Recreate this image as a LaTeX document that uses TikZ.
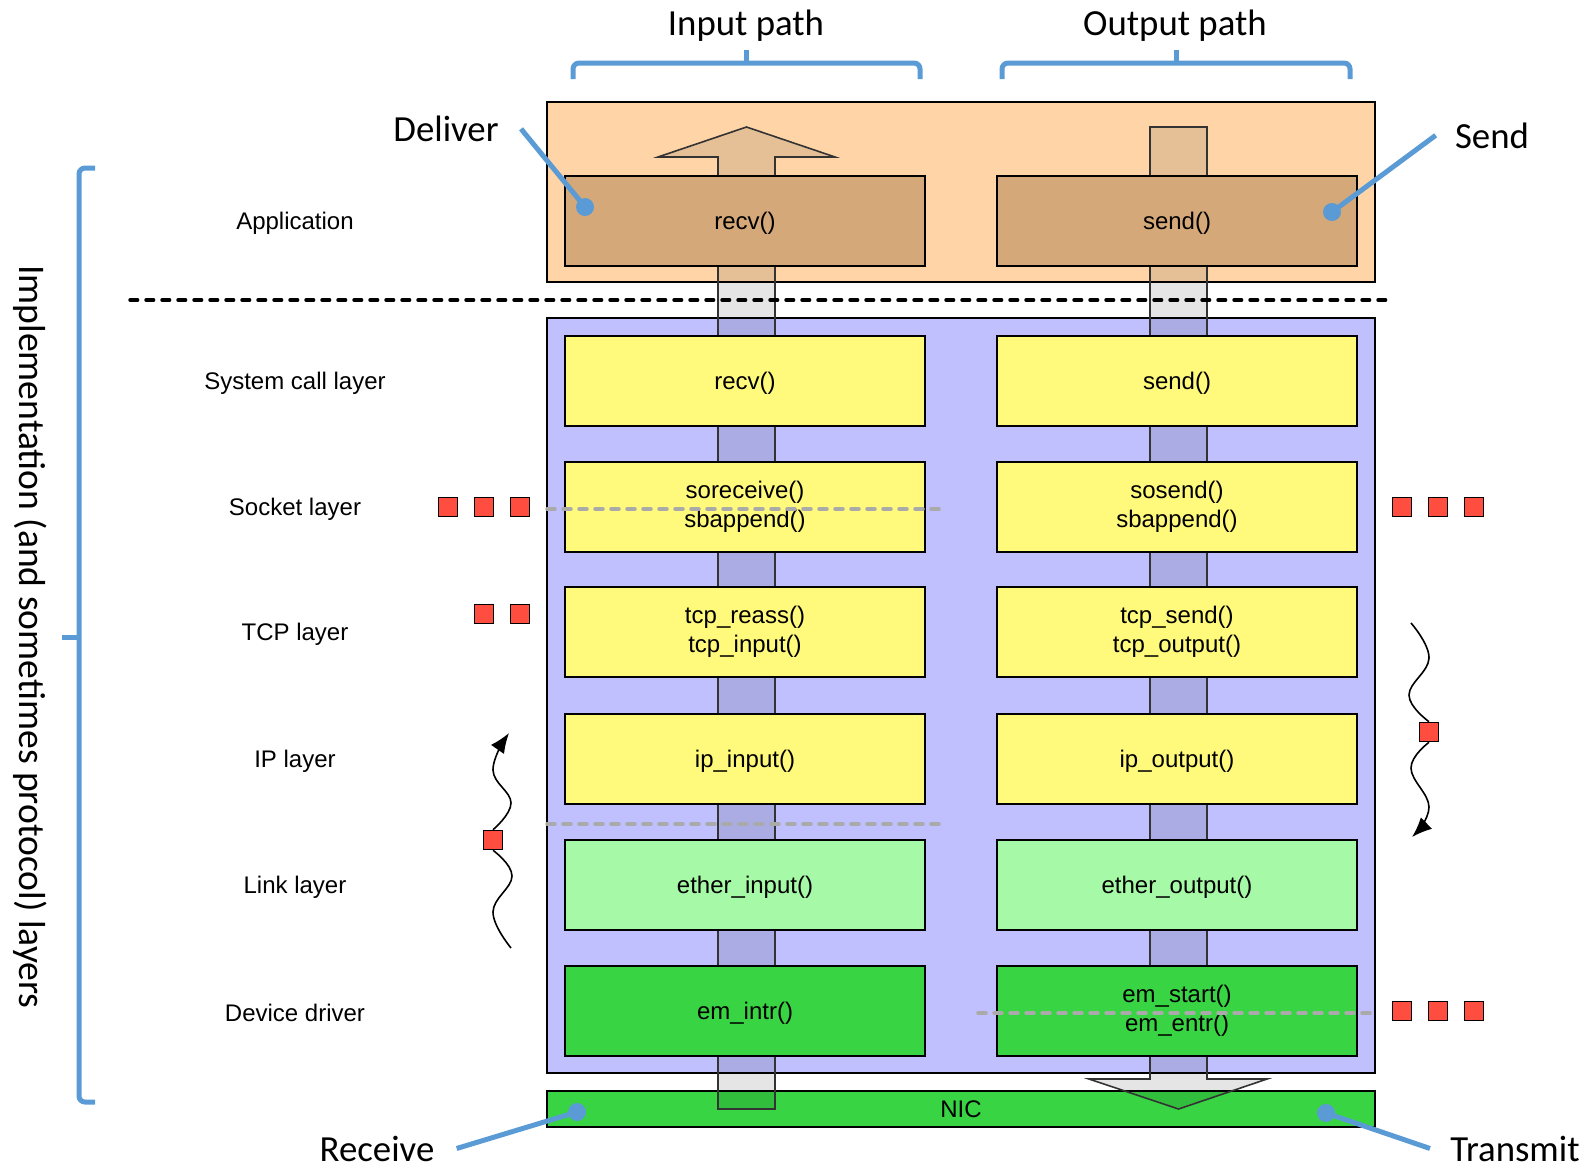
\documentclass[tikz,border=0pt]{standalone}
\usepackage{fontspec}
\setmainfont{Liberation Sans}
\newfontfamily\callfont{Carlito}
\usetikzlibrary{arrows.meta}

\definecolor{appbg}{HTML}{FFD5A8}
\definecolor{appfn}{HTML}{D4A878}
\definecolor{kernbg}{HTML}{C0C0FF}
\definecolor{protofn}{HTML}{FFFA7B}
\definecolor{linkfn}{HTML}{A6F9A6}
\definecolor{devfn}{HTML}{38D444}
\definecolor{pkt}{HTML}{FF4D40}
\definecolor{callblue}{HTML}{5B9BD5}
\definecolor{cutgrey}{HTML}{AAAAAA}

\newcommand{\fnpair}[2]{\begin{tabular}{@{}c@{}}#1\\#2\end{tabular}}

\tikzset{
  fnbox/.style={draw, line width=1pt, minimum width=180pt, minimum height=45pt,
    inner sep=0pt, font=\fontsize{12}{14.3}\selectfont},
  onefn/.style={fnbox, execute at begin node=\rule{0pt}{10.8pt}},
  layerlbl/.style={font=\fontsize{12}{14.3}\selectfont, execute at begin node=\rule{0pt}{10.8pt}},
  region/.style={draw, line width=1pt, minimum width=414pt, inner sep=0pt,
    font=\fontsize{12}{14.3}\selectfont},
  bigtxt/.style={font=\callfont\fontsize{18.4}{22}\selectfont, inner sep=0pt},
  pktbox/.style={draw, line width=0.8pt, fill=pkt, minimum size=9.5pt, inner sep=0pt},
  blockarrow/.style={draw=black!80, line width=0.8pt, fill=black, fill opacity=0.1},
  callout/.style={callblue, line width=2.5pt},
  calldot/.style={circle, fill=callblue, minimum size=9pt, inner sep=0pt},
  bluebrace/.style={callblue, line width=2.5pt, rounded corners=3pt},
  cutline/.style={cutgrey, line width=1.75pt, line cap=round, dash pattern=on 4pt off 4pt},
  kernline/.style={line width=1.7pt, line cap=round, dash pattern=on 3.8pt off 4.2pt},
  wavy/.style={line width=0.8pt},
}

\begin{document}
\begin{tikzpicture}[x=0.5pt, y=-0.5pt]
  \useasboundingbox (0,0) rectangle (1595,1168);

  \node[region, fill=appbg, minimum height=90pt] (app) at (961,192) {};
  \node[region, fill=kernbg, minimum height=377.5pt] (kern) at (961,695.5) {};
  \node[region, fill=devfn, minimum height=18pt] (nic) at (961,1109) {NIC};

  % input and output paths
  \draw[blockarrow] (718,1109) -- (718,157) -- (658,157) -- (746.5,127) -- (835,157)
    -- (775,157) -- (775,1109) -- cycle;
  \draw[blockarrow] (1150,127) -- (1207,127) -- (1207,1079) -- (1267,1079)
    -- (1178.5,1109) -- (1089,1079) -- (1150,1079) -- cycle;

  \node[onefn, fill=appfn] (arecv) at (745,221) {recv()};
  \node[onefn, fill=appfn] (asend) at (1177,221) {send()};
  \node[onefn, fill=protofn] (srecv) at (745,381) {recv()};
  \node[onefn, fill=protofn] (ssend) at (1177,381) {send()};
  \node[fnbox, fill=protofn] (sorecv) at (745,507) {\fnpair{soreceive()}{sbappend()}};
  \node[fnbox, fill=protofn] (sosend) at (1177,507) {\fnpair{sosend()}{sbappend()}};
  \node[fnbox, fill=protofn] (tcpin) at (745,632) {\fnpair{tcp\_reass()}{tcp\_input()}};
  \node[fnbox, fill=protofn] (tcpout) at (1177,632) {\fnpair{tcp\_send()}{tcp\_output()}};
  \node[onefn, fill=protofn] (ipin) at (745,759) {ip\_input()};
  \node[onefn, fill=protofn] (ipout) at (1177,759) {ip\_output()};
  \node[onefn, fill=linkfn] (ethin) at (745,885) {ether\_input()};
  \node[onefn, fill=linkfn] (ethout) at (1177,885) {ether\_output()};
  \node[onefn, fill=devfn] (emin) at (745,1011) {em\_intr()};
  \node[fnbox, fill=devfn] (emout) at (1177,1011) {\fnpair{em\_start()}{em\_entr()}};

  \foreach \y/\t in {221/Application, 381/System call layer, 507/Socket layer,
      632/TCP layer, 759/IP layer, 885/Link layer, 1011/Device driver}
    \node[layerlbl] (lay\y) at (295,\y) {\t};

  \draw[kernline] (130,300) -- (1391,300);
  \draw[cutline] (547,509) -- (940,509);
  \draw[cutline] (547,824) -- (940,824);
  \draw[cutline] (978,1013) -- (1373,1013);

  % queued packets
  \foreach \x in {448,484,520}
    \node[pktbox] (sql\x) at (\x,507) {};
  \foreach \x in {484,520}
    \node[pktbox] (tql\x) at (\x,614) {};
  \foreach \x in {1402,1438,1474} {
    \node[pktbox] (sqr\x) at (\x,507) {};
    \node[pktbox] (dqr\x) at (\x,1011) {};
  }

  \node[pktbox] (rxpkt) at (493,840) {};
  \coordinate (rxfrom) at (511,948);
  \coordinate (rxto) at (509,733);
  \draw[wavy] plot[smooth, tension=0.7] coordinates {(rxfrom) (493,912) (512,876) (rxpkt.south)};
  \draw[wavy, -{Latex[length=10pt,width=8pt]}] plot[smooth, tension=0.7]
    coordinates {(rxpkt.north) (511,803) (493,770) (rxto)};

  \node[pktbox] (txpkt) at (1429,732) {};
  \coordinate (txfrom) at (1411,623);
  \coordinate (txto) at (1412,837);
  \draw[wavy] plot[smooth, tension=0.7] coordinates {(txfrom) (1429,658) (1409,695) (txpkt.north)};
  \draw[wavy, -{Latex[length=10pt,width=8pt]}] plot[smooth, tension=0.7]
    coordinates {(txpkt.south) (1411,768) (1429,807) (txto)};

  % callouts
  \node[bigtxt, anchor=base] (lbldeliver) at (446,141.5) {Deliver};
  \node[calldot] (dotdeliver) at (585,207) {};
  \draw[callout] ([xshift=11pt]lbldeliver.east) -- (dotdeliver.center);

  \node[bigtxt, anchor=base] (lblsend) at (1492,148) {Send};
  \node[calldot] (dotsend) at (1332,212) {};
  \draw[callout] ([xshift=-9.5pt]lblsend.west) -- (dotsend.center);

  \node[bigtxt, anchor=base] (lblreceive) at (377,1161) {Receive};
  \node[calldot] (dotreceive) at (577,1112) {};
  \draw[callout] ([xshift=11pt]lblreceive.east) -- (dotreceive.center);

  \node[bigtxt, anchor=base] (lbltransmit) at (1515,1161) {Transmit};
  \node[calldot] (dottransmit) at (1326,1113) {};
  \draw[callout] ([xshift=-10pt]lbltransmit.west) -- (dottransmit.center);

  \node[bigtxt, anchor=base] (lblin) at (746,35) {Input path};
  \node[bigtxt, anchor=base] (lblout) at (1175,35) {Output path};
  \draw[bluebrace] (573,79) -- (573,63) -- (920,63) -- (920,79);
  \draw[bluebrace] (746,63) -- (746,50);
  \draw[bluebrace] (1002,79) -- (1002,63) -- (1350,63) -- (1350,79);
  \draw[bluebrace] (1176,63) -- (1176,50);

  \draw[bluebrace] (95,168) -- (79,168) -- (79,1102) -- (95,1102);
  \draw[bluebrace] (79,637) -- (62,637);
  \node[bigtxt, rotate=-90, font=\callfont\fontsize{18.8}{22}\selectfont] (lblimpl) at (30,637)
    {Implementation (and sometimes protocol) layers};
\end{tikzpicture}
\end{document}
